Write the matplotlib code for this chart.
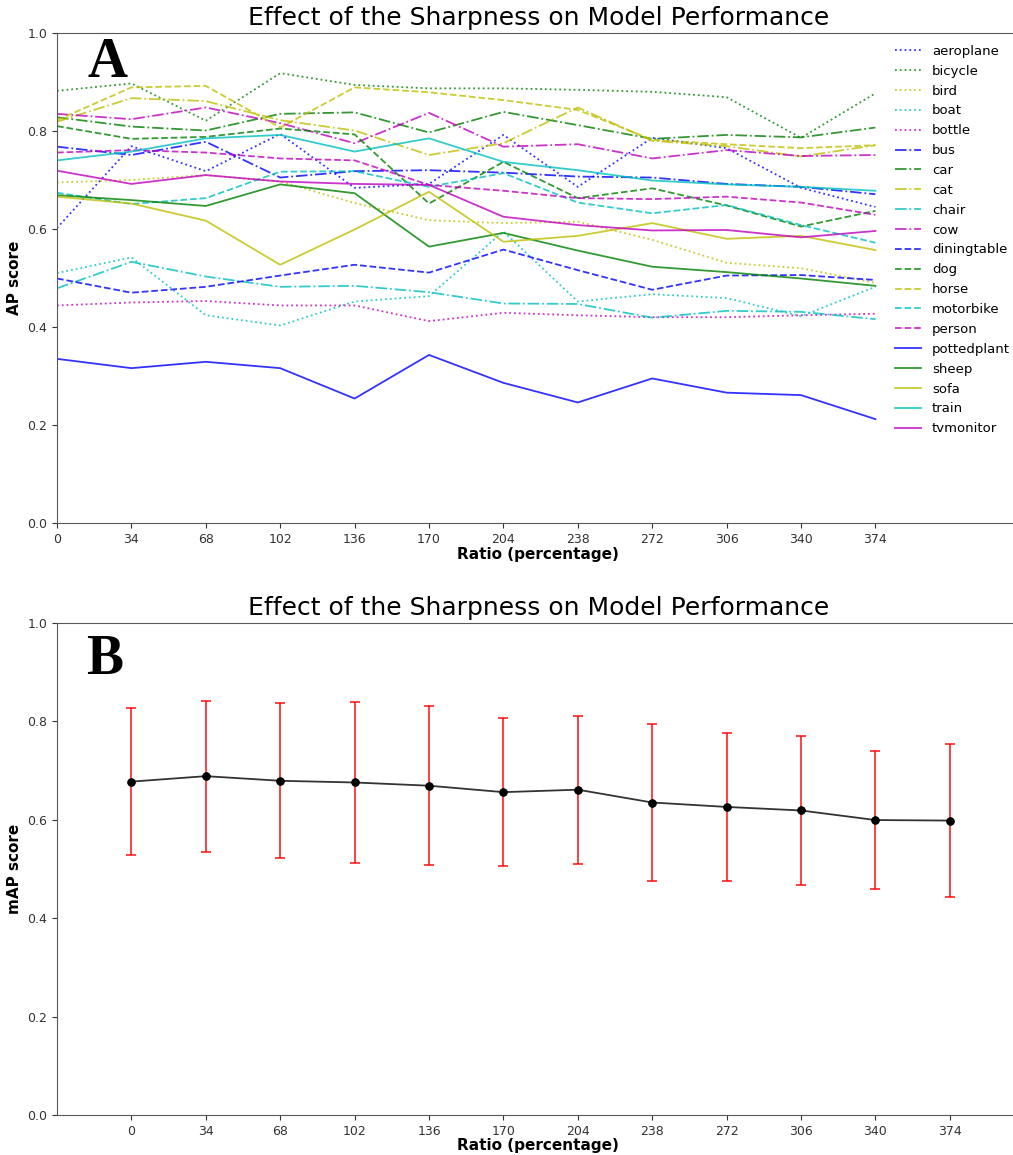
import numpy as np
import matplotlib
matplotlib.use('Agg')
import matplotlib.pyplot as plt

ratios = [0, 34, 68, 102, 136, 170, 204, 238, 272, 306, 340, 374]

classes = ['aeroplane', 'bicycle', 'bird', 'boat', 'bottle',
           'bus', 'car', 'cat', 'chair', 'cow',
           'diningtable', 'dog', 'horse', 'motorbike', 'person',
           'pottedplant', 'sheep', 'sofa', 'train', 'tvmonitor']

aeroplane = [0.602, 0.769, 0.718, 0.794, 0.684, 0.692, 0.792, 0.686, 0.786, 0.765, 0.684, 0.645]
bicycle = [0.882, 0.897, 0.821, 0.918, 0.894, 0.887, 0.887, 0.884, 0.880, 0.869, 0.786, 0.877]
bird = [0.695, 0.700, 0.710, 0.697, 0.653, 0.618, 0.612, 0.615, 0.578, 0.531, 0.520, 0.490]
boat = [0.510, 0.542, 0.424, 0.403, 0.452, 0.463, 0.595, 0.452, 0.467, 0.459, 0.422, 0.482]
bottle = [0.444, 0.450, 0.453, 0.444, 0.444, 0.412, 0.429, 0.424, 0.420, 0.420, 0.424, 0.427]
bus = [0.768, 0.751, 0.778, 0.705, 0.718, 0.720, 0.715, 0.707, 0.705, 0.692, 0.686, 0.671]
car = [0.828, 0.809, 0.801, 0.835, 0.838, 0.797, 0.839, 0.812, 0.784, 0.792, 0.787, 0.807]
cat = [0.819, 0.867, 0.861, 0.822, 0.801, 0.751, 0.775, 0.848, 0.780, 0.769, 0.748, 0.771]
chair = [0.479, 0.533, 0.503, 0.482, 0.484, 0.471, 0.448, 0.447, 0.419, 0.433, 0.431, 0.416]
cow = [0.835, 0.824, 0.848, 0.816, 0.775, 0.837, 0.768, 0.773, 0.744, 0.761, 0.749, 0.751]
diningtable = [0.499, 0.470, 0.482, 0.505, 0.527, 0.511, 0.558, 0.516, 0.476, 0.505, 0.506, 0.496]
dog = [0.810, 0.784, 0.788, 0.805, 0.793, 0.652, 0.737, 0.663, 0.683, 0.648, 0.605, 0.637]
horse = [0.822, 0.889, 0.892, 0.807, 0.889, 0.879, 0.863, 0.843, 0.782, 0.773, 0.765, 0.771]
motorbike = [0.674, 0.651, 0.663, 0.717, 0.718, 0.686, 0.714, 0.654, 0.632, 0.649, 0.608, 0.572]
person = [0.756, 0.761, 0.756, 0.744, 0.740, 0.690, 0.678, 0.663, 0.661, 0.666, 0.654, 0.629]
pottedplant = [0.335, 0.316, 0.329, 0.316, 0.254, 0.343, 0.286, 0.246, 0.295, 0.266, 0.261, 0.212]
sheep = [0.669, 0.659, 0.647, 0.691, 0.673, 0.564, 0.592, 0.556, 0.523, 0.512, 0.499, 0.484]
sofa = [0.666, 0.652, 0.617, 0.527, 0.599, 0.676, 0.574, 0.586, 0.612, 0.580, 0.586, 0.557]
train = [0.740, 0.758, 0.785, 0.792, 0.758, 0.785, 0.737, 0.720, 0.699, 0.691, 0.686, 0.678]
tvmonitor = [0.719, 0.692, 0.710, 0.697, 0.692, 0.690, 0.625, 0.608, 0.597, 0.598, 0.583, 0.596]

ap = np.array([aeroplane, bicycle, bird, boat, bottle, bus, car, cat, chair, cow,
               diningtable, dog, horse, motorbike, person, pottedplant, sheep, sofa,
               train, tvmonitor])

# mAP over the 20 classes and its spread
m_ap = ap.mean(axis=0)
m_std = ap.std(axis=0)

colors = ['b', 'g', 'y', 'c', 'm']
styles = [':', '-.', '--', '-']

W, H = 1013, 1155
fig = plt.figure(figsize=(W / 100, H / 100), dpi=100)

px = 74.4 / 34  # pixels per ratio unit
ax_w = 440 * px / W
title = 'Effect of the Sharpness on Model Performance'

# top panel: per-class AP
ax1 = fig.add_axes([57 / W, 1 - 523 / H, ax_w, 490 / H])
for i, name in enumerate(classes):
    ax1.plot(ratios, ap[i], color=colors[i % 5], linestyle=styles[i // 5],
             lw=1.3, alpha=0.8, label=name)
ax1.set_xlim(0, 440)
ax1.set_ylim(0, 1.0)
ax1.set_xticks(ratios)
ax1.set_yticks([0.0, 0.2, 0.4, 0.6, 0.8, 1.0])
ax1.set_title(title, fontsize=18)
ax1.set_xlabel('Ratio (percentage)', fontsize=11, fontweight='bold', labelpad=1)
ax1.set_ylabel('AP score', fontsize=11, fontweight='bold')
ax1.legend(loc='upper left', bbox_to_anchor=((883 - 57) / (440 * px), 1.0),
           frameon=False, fontsize=9.5, handlelength=2.0, handletextpad=0.8,
           labelspacing=0.52)
ax1.text(0.032, 0.91, 'A', transform=ax1.transAxes, fontsize=40,
         fontweight='bold', family='Liberation Serif', va='baseline')

# bottom panel: mAP with std error bars
ax2 = fig.add_axes([57 / W, 1 - 1115 / H, ax_w, 492 / H])
ax2.errorbar(ratios, m_ap, yerr=m_std, color='k', marker='o', markersize=5,
             lw=1.3, ecolor='r', elinewidth=1.3, capsize=3.5, capthick=1.3,
             alpha=0.8)
ax2.plot(ratios, m_ap, 'ko', markersize=5)
ax2.set_xlim(-34, 406)
ax2.set_ylim(0, 1.0)
ax2.set_xticks(ratios)
ax2.set_yticks([0.0, 0.2, 0.4, 0.6, 0.8, 1.0])
ax2.set_title(title, fontsize=18)
ax2.set_xlabel('Ratio (percentage)', fontsize=11, fontweight='bold', labelpad=0)
ax2.set_ylabel('mAP score', fontsize=11, fontweight='bold')
ax2.text(0.030, 0.896, 'B', transform=ax2.transAxes, fontsize=40,
         fontweight='bold', family='Liberation Serif', va='baseline')

for ax in (ax1, ax2):
    ax.tick_params(labelsize=9, colors='0.2')
    for s in ax.spines.values():
        s.set_color('0.35')

fig.savefig('out.png', dpi=100)
